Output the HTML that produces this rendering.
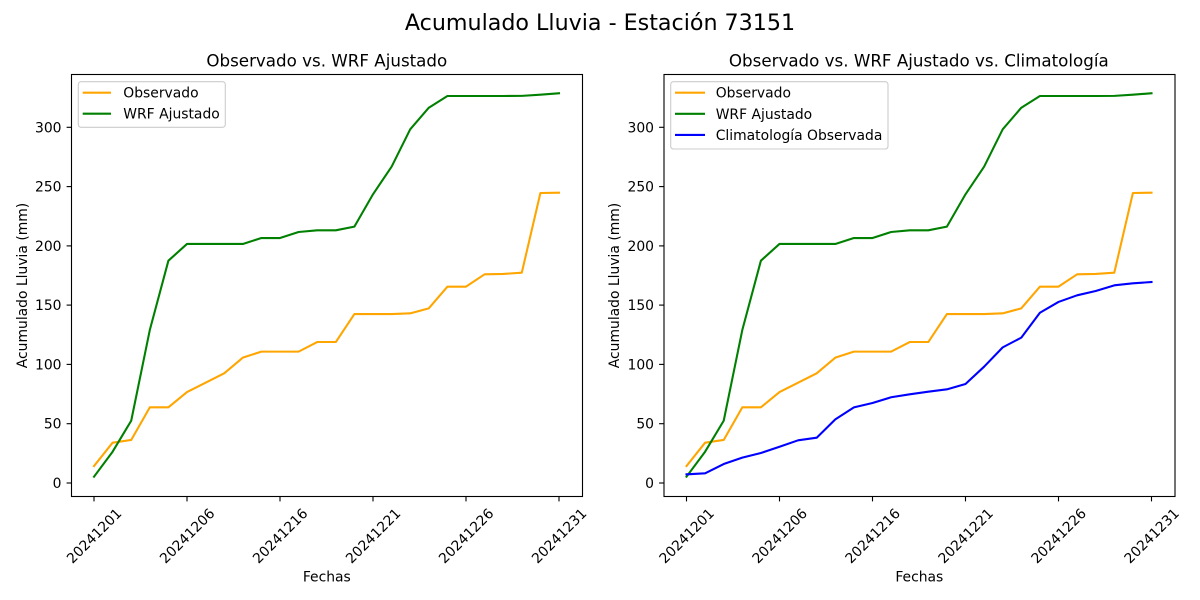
<!DOCTYPE html>
<html>
<head>
<meta charset="utf-8">
<style>
html,body{margin:0;padding:0;background:#fff;}
svg{display:block;}
text{font-family:"DejaVu Sans","Liberation Sans",sans-serif;fill:#000;}
.tick{font-size:13.9px;}
.lbl{font-size:13.9px;}
.ttl{font-size:16.7px;}
</style>
</head>
<body>
<svg width="1200" height="600" viewBox="0 0 1200 600" xmlns="http://www.w3.org/2000/svg">
<rect x="0" y="0" width="1200" height="600" fill="#fff"/>
<text x="600" y="30" text-anchor="middle" style="font-size:22.2px">Acumulado Lluvia - Estación 73151</text>

<!-- LEFT AXES -->
<g id="left">
  <text class="ttl" x="326.8" y="66.5" text-anchor="middle">Observado vs. WRF Ajustado</text>
  <!-- lines -->
  <polyline fill="none" stroke="#FFA500" stroke-width="2.08" stroke-linejoin="round" stroke-linecap="square"
    points="94,466.04 112.6,442.69 131.2,439.96 149.8,407.35 168.4,407.35 187,392.06 205.6,382.69 224.2,373.32 242.8,357.67 261.4,351.62 280,351.62 298.6,351.62 317.2,342.02 335.8,342.02 354.4,314.04 373,314.04 391.6,314.04 410.2,313.33 428.8,308.35 447.4,286.65 466,286.65 484.6,274.32 503.2,273.96 521.8,272.66 540.4,192.98 559,192.74"/>
  <polyline fill="none" stroke="#008000" stroke-width="2.08" stroke-linejoin="round" stroke-linecap="square"
    points="94,476.72 112.6,451.70 131.2,420.75 149.8,330.04 168.4,260.68 187,243.96 205.6,243.96 224.2,243.96 242.8,243.96 261.4,238.03 280,238.03 298.6,231.99 317.2,230.33 335.8,230.33 354.4,226.65 373,194.28 391.6,166.66 410.2,129.31 428.8,107.73 447.4,95.99 466,95.99 484.6,95.99 503.2,95.99 521.8,95.87 540.4,94.68 559,93.26"/>
  <!-- frame -->
  <rect x="71.5" y="74.5" width="511" height="422" fill="none" stroke="#000" stroke-width="1.11"/>
  <!-- y ticks -->
  <g stroke="#000" stroke-width="1.11">
    <line x1="66.6" y1="483" x2="71.5" y2="483"/>
    <line x1="66.6" y1="423.7" x2="71.5" y2="423.7"/>
    <line x1="66.6" y1="364.4" x2="71.5" y2="364.4"/>
    <line x1="66.6" y1="305.1" x2="71.5" y2="305.1"/>
    <line x1="66.6" y1="245.9" x2="71.5" y2="245.9"/>
    <line x1="66.6" y1="186.6" x2="71.5" y2="186.6"/>
    <line x1="66.6" y1="127.3" x2="71.5" y2="127.3"/>
    <line x1="94" y1="496.5" x2="94" y2="501.4"/>
    <line x1="187" y1="496.5" x2="187" y2="501.4"/>
    <line x1="280" y1="496.5" x2="280" y2="501.4"/>
    <line x1="373" y1="496.5" x2="373" y2="501.4"/>
    <line x1="466" y1="496.5" x2="466" y2="501.4"/>
    <line x1="559" y1="496.5" x2="559" y2="501.4"/>
  </g>
  <g class="tick" text-anchor="end">
    <text x="61.5" y="488">0</text>
    <text x="61.5" y="428.7">50</text>
    <text x="61.5" y="369.4">100</text>
    <text x="61.5" y="310.1">150</text>
    <text x="61.5" y="250.9">200</text>
    <text x="61.5" y="191.6">250</text>
    <text x="61.5" y="132.3">300</text>
  </g>
  <g class="tick" text-anchor="middle">
    <text transform="translate(94,535.7) rotate(-45)" x="0" y="5">20241201</text>
    <text transform="translate(187,535.7) rotate(-45)" x="0" y="5">20241206</text>
    <text transform="translate(280,535.7) rotate(-45)" x="0" y="5">20241216</text>
    <text transform="translate(373,535.7) rotate(-45)" x="0" y="5">20241221</text>
    <text transform="translate(466,535.7) rotate(-45)" x="0" y="5">20241226</text>
    <text transform="translate(559,535.7) rotate(-45)" x="0" y="5">20241231</text>
  </g>
  <text class="lbl" x="326.8" y="581.7" text-anchor="middle">Fechas</text>
  <text class="lbl" transform="translate(26.8,285.5) rotate(-90)" x="0" y="0" text-anchor="middle">Acumulado Lluvia (mm)</text>
  <!-- legend -->
  <rect x="78.3" y="81.7" width="147" height="45.6" rx="2.8" ry="2.8" fill="#fff" fill-opacity="0.8" stroke="#cccccc" stroke-width="1.1"/>
  <line x1="82.7" y1="92.7" x2="111" y2="92.7" stroke="#FFA500" stroke-width="2.08"/>
  <line x1="82.7" y1="113.7" x2="111" y2="113.7" stroke="#008000" stroke-width="2.08"/>
  <text class="lbl" x="123.3" y="97.7">Observado</text>
  <text class="lbl" x="123.3" y="118.7">WRF Ajustado</text>
</g>

<!-- RIGHT AXES -->
<g transform="translate(592.5,0)">
  <text class="ttl" x="326.3" y="66.5" text-anchor="middle">Observado vs. WRF Ajustado vs. Climatología</text>
  <polyline fill="none" stroke="#FFA500" stroke-width="2.08" stroke-linejoin="round" stroke-linecap="square"
    points="94,466.04 112.6,442.69 131.2,439.96 149.8,407.35 168.4,407.35 187,392.06 205.6,382.69 224.2,373.32 242.8,357.67 261.4,351.62 280,351.62 298.6,351.62 317.2,342.02 335.8,342.02 354.4,314.04 373,314.04 391.6,314.04 410.2,313.33 428.8,308.35 447.4,286.65 466,286.65 484.6,274.32 503.2,273.96 521.8,272.66 540.4,192.98 559,192.74"/>
  <polyline fill="none" stroke="#008000" stroke-width="2.08" stroke-linejoin="round" stroke-linecap="square"
    points="94,476.72 112.6,451.70 131.2,420.75 149.8,330.04 168.4,260.68 187,243.96 205.6,243.96 224.2,243.96 242.8,243.96 261.4,238.03 280,238.03 298.6,231.99 317.2,230.33 335.8,230.33 354.4,226.65 373,194.28 391.6,166.66 410.2,129.31 428.8,107.73 447.4,95.99 466,95.99 484.6,95.99 503.2,95.99 521.8,95.87 540.4,94.68 559,93.26"/>
  <polyline fill="none" stroke="#0000FF" stroke-width="2.08" stroke-linejoin="round" stroke-linecap="square"
    points="94,474.34 112.6,473.28 131.2,464.03 149.8,457.63 168.4,453.0 187,446.72 205.6,440.31 224.2,437.71 242.8,419.33 261.4,407.35 280,402.97 298.6,397.27 317.2,394.31 335.8,391.70 354.4,389.33 373,383.99 391.6,366.68 410.2,347.36 428.8,337.63 447.4,312.73 466,301.94 484.6,295.30 503.2,291.03 521.8,285.34 540.4,283.33 559,282.02"/>
  <rect x="71.5" y="74.5" width="511" height="422" fill="none" stroke="#000" stroke-width="1.11"/>
  <g stroke="#000" stroke-width="1.11">
    <line x1="66.6" y1="483" x2="71.5" y2="483"/>
    <line x1="66.6" y1="423.7" x2="71.5" y2="423.7"/>
    <line x1="66.6" y1="364.4" x2="71.5" y2="364.4"/>
    <line x1="66.6" y1="305.1" x2="71.5" y2="305.1"/>
    <line x1="66.6" y1="245.9" x2="71.5" y2="245.9"/>
    <line x1="66.6" y1="186.6" x2="71.5" y2="186.6"/>
    <line x1="66.6" y1="127.3" x2="71.5" y2="127.3"/>
    <line x1="94" y1="496.5" x2="94" y2="501.4"/>
    <line x1="187" y1="496.5" x2="187" y2="501.4"/>
    <line x1="280" y1="496.5" x2="280" y2="501.4"/>
    <line x1="373" y1="496.5" x2="373" y2="501.4"/>
    <line x1="466" y1="496.5" x2="466" y2="501.4"/>
    <line x1="559" y1="496.5" x2="559" y2="501.4"/>
  </g>
  <g class="tick" text-anchor="end">
    <text x="61.5" y="488">0</text>
    <text x="61.5" y="428.7">50</text>
    <text x="61.5" y="369.4">100</text>
    <text x="61.5" y="310.1">150</text>
    <text x="61.5" y="250.9">200</text>
    <text x="61.5" y="191.6">250</text>
    <text x="61.5" y="132.3">300</text>
  </g>
  <g class="tick" text-anchor="middle">
    <text transform="translate(94,535.7) rotate(-45)" x="0" y="5">20241201</text>
    <text transform="translate(187,535.7) rotate(-45)" x="0" y="5">20241206</text>
    <text transform="translate(280,535.7) rotate(-45)" x="0" y="5">20241216</text>
    <text transform="translate(373,535.7) rotate(-45)" x="0" y="5">20241221</text>
    <text transform="translate(466,535.7) rotate(-45)" x="0" y="5">20241226</text>
    <text transform="translate(559,535.7) rotate(-45)" x="0" y="5">20241231</text>
  </g>
  <text class="lbl" x="326.8" y="581.7" text-anchor="middle">Fechas</text>
  <text class="lbl" transform="translate(26.3,285.5) rotate(-90)" x="0" y="0" text-anchor="middle">Acumulado Lluvia (mm)</text>
  <rect x="78.2" y="81.7" width="217.3" height="67.3" rx="2.8" ry="2.8" fill="#fff" fill-opacity="0.8" stroke="#cccccc" stroke-width="1.1"/>
  <line x1="82.5" y1="92.7" x2="112.5" y2="92.7" stroke="#FFA500" stroke-width="2.08"/>
  <line x1="82.5" y1="113.8" x2="112.5" y2="113.8" stroke="#008000" stroke-width="2.08"/>
  <line x1="82.5" y1="134.9" x2="112.5" y2="134.9" stroke="#0000FF" stroke-width="2.08"/>
  <text class="lbl" x="123.2" y="97.7">Observado</text>
  <text class="lbl" x="123.2" y="118.8">WRF Ajustado</text>
  <text class="lbl" x="123.2" y="139.9">Climatología Observada</text>
</g>
</svg>
</body>
</html>
